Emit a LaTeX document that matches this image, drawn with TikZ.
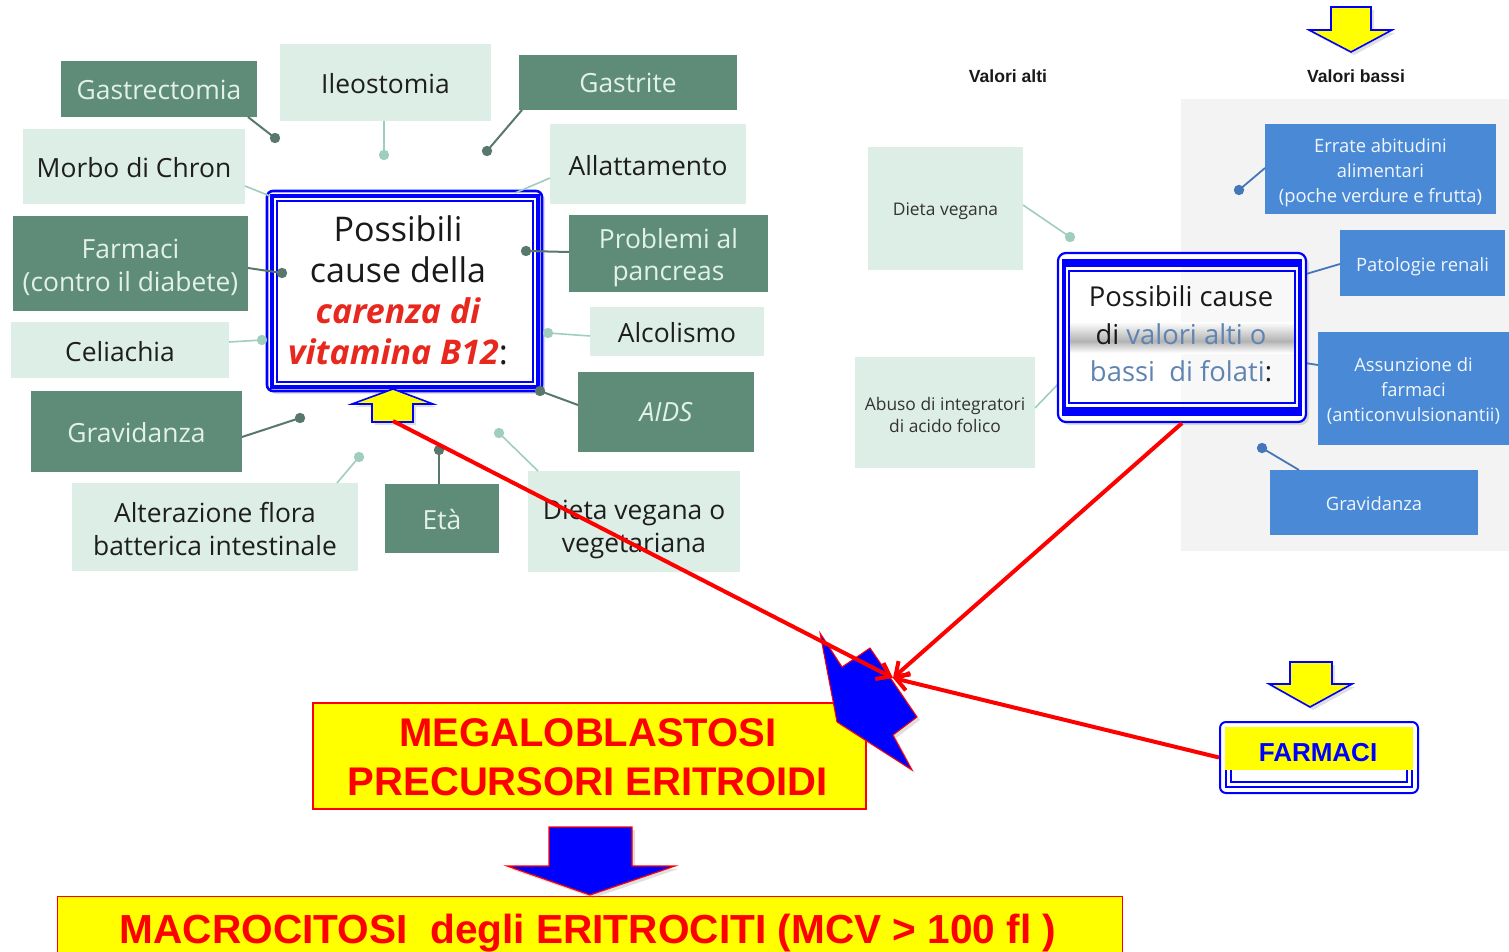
\documentclass[tikz,border=0pt]{standalone}
\usepackage{fontspec}
\setmainfont{Open Sans}
\newfontfamily\arialfont{Liberation Sans}
\usetikzlibrary{arrows.meta,calc,shadows}

\definecolor{mapdark}{RGB}{95,140,121}
\definecolor{maplight}{RGB}{221,238,230}
\definecolor{darktxt}{RGB}{226,241,233}
\definecolor{lighttxt}{RGB}{30,30,30}
\definecolor{linedark}{RGB}{88,120,108}
\definecolor{linelight}{RGB}{160,206,190}
\definecolor{folblue}{RGB}{74,137,214}
\definecolor{folline}{RGB}{70,118,186}
\definecolor{panelgray}{RGB}{243,243,243}
\definecolor{folatetxt}{RGB}{95,132,178}
\definecolor{b12red}{RGB}{232,40,30}
\definecolor{pureblue}{RGB}{0,0,255}
\definecolor{purered}{RGB}{255,0,0}
\definecolor{pureyellow}{RGB}{255,255,0}

% rectangular map node given by its corners (x1,y1,x2,y2),
% with its label moved down by #7
\newcommand\mapnode[8]{%
  \node[#2, minimum width={(#5-#3)*0.5pt}, minimum height={(#6-#4)*0.5pt}]
    (#1) at ({(#3+#5)/2},{(#4+#6)/2}) {};
  \node[#2, fill=none] (#1-label) at ({(#3+#5)/2},{(#4+#6)/2+#7}) {#8};}

\begin{document}
\begin{tikzpicture}[x=0.5pt,y=-0.5pt,
  mapbox/.style={rectangle, inner sep=0pt, outer sep=0pt, align=center,
    font=\fontsize{13.2}{16.3}\selectfont},
  darkbox/.style={mapbox, fill=mapdark, text=darktxt},
  lightbox/.style={mapbox, fill=maplight, text=lighttxt},
  palebox/.style={mapbox, fill=maplight, text=black!80,
    font=\fontsize{8.7}{11}\selectfont},
  bluebox/.style={mapbox, fill=folblue, text=white!92!folblue,
    font=\fontsize{9.2}{12.5}\selectfont},
  darkwire/.style={draw=linedark, line width=1pt},
  lightwire/.style={draw=linelight, line width=0.8pt},
  bluewire/.style={draw=folline, line width=0.9pt},
  softshadow/.style={drop shadow={opacity=0.25, shadow xshift=1.5pt, shadow yshift=-1.5pt}},
  yellowarrow/.style={fill=pureyellow, draw=pureblue, line width=0.8pt, line join=miter, softshadow},
  bluearrow/.style={fill=pureblue, draw=purered, line width=0.6pt, line join=miter, softshadow},
  redarrow/.style={draw=purered, line width=2pt, -{Straight Barb[length=6pt,width=9pt]}},
  redbox/.style={rectangle, fill=pureyellow, draw=purered, line width=0.7pt, inner sep=0pt},
  bigred/.style={text=purered, font=\arialfont\bfseries\fontsize{20}{24.5}\selectfont, align=center},
  heading/.style={font=\arialfont\bfseries\fontsize{8.8}{10}\selectfont, text=black!90}
]
\useasboundingbox (0,0) rectangle (1509,952);
\fill[white] (0,0) rectangle (1509,952);

% ---------------- vitamin B12 map ----------------
\mapnode{gastr}{darkbox}{61}{61}{257}{117}{1}{Gastrectomia}
\mapnode{ileo}{lightbox}{280}{44}{491}{121}{1}{Ileostomia}
\mapnode{gastrite}{darkbox}{519}{55}{737}{110}{0.5}{Gastrite}
\mapnode{morbo}{lightbox}{23}{129}{245}{204}{1}{Morbo di Chron}
\mapnode{allatt}{lightbox}{550}{124}{746}{204}{2}{Allattamento}
\mapnode{farmdiab}{darkbox}{13}{216}{248}{311}{4}{Farmaci\\(contro il diabete)}
\mapnode{pancr}{darkbox}{569}{215}{768}{292}{4}{Problemi al\\pancreas}
\mapnode{celiac}{lightbox}{11}{322}{229}{378}{2}{Celiachia}
\mapnode{alcol}{lightbox}{590}{307}{764}{356}{1}{Alcolismo}
\mapnode{aids}{darkbox}{578}{372}{754}{452}{0}{\itshape AIDS}
\mapnode{grav}{darkbox}{31}{391}{242}{472}{1}{Gravidanza}
\mapnode{alter}{lightbox}{72}{483}{358}{571}{2}{Alterazione flora\\batterica intestinale}
\mapnode{eta}{darkbox}{385}{484}{499}{553}{1}{Età}
\mapnode{dieta}{lightbox}{528}{471}{740}{572}{8}{Dieta vegana o\\vegetariana}

% central frame
\node[rectangle, draw=pureblue, line width=1.3pt, rounded corners=3pt, fill=white,
      minimum width=137.5pt, minimum height=100pt, softshadow] (b12) at (404.5,291) {};
\draw[pureblue, line width=1.6pt] (272,196) rectangle (538,387);
\draw[pureblue, line width=0.8pt] (277,201) rectangle (533,382);
\node[align=center, font=\fontsize{17}{20.5}\selectfont, text=black!90] (b12txt) at (398,290)
  {Possibili\\cause della\\{\color{b12red}\bfseries\itshape carenza di}\\{\color{b12red}\bfseries\itshape vitamina B12}:};

% connectors with their end dots
\coordinate (d1) at (275,138);  \coordinate (d2) at (384,155);
\coordinate (d3) at (487,151);  \coordinate (e4) at (270,196);
\coordinate (e5) at (515,193);  \coordinate (d6) at (282,273);
\coordinate (d7) at (526,251);  \coordinate (d8) at (262,340);
\coordinate (d9) at (548,333);  \coordinate (d10) at (540,391);
\coordinate (d11) at (300,418); \coordinate (d12) at (359,457);
\coordinate (d13) at (439,450); \coordinate (d14) at (499,433);

\draw[darkwire]  ($(gastr.south east)+(-9,0)$) -- (d1);
\draw[lightwire] ($(ileo.south)+(-1.5,0)$) -- (d2);
\draw[darkwire]  ($(gastrite.south west)+(3,0)$) -- (d3);
\draw[lightwire] ($(morbo.east)+(0,19.5)$) -- (e4);
\draw[lightwire] ($(allatt.west)+(0,14)$) -- (e5);
\draw[darkwire]  ($(farmdiab.east)+(0,4.5)$) -- (d6);
\draw[darkwire]  ($(pancr.west)+(0,-1.5)$) -- (d7);
\draw[lightwire] ($(celiac.east)+(0,-8)$) -- (d8);
\draw[lightwire] ($(alcol.west)+(0,4.5)$) -- (d9);
\draw[darkwire]  ($(aids.west)+(0,-7)$) -- (d10);
\draw[darkwire]  ($(grav.east)+(0,5.5)$) -- (d11);
\draw[lightwire] ($(alter.north east)+(-21,0)$) -- (d12);
\draw[darkwire]  ($(eta.north)+(-3,0)$) -- (d13);
\draw[lightwire] ($(dieta.north west)+(10,0)$) -- (d14);

\foreach \p in {d1,d3,d6,d7,d10,d11,d13} \fill[linedark] (\p) circle (2.6pt);
\foreach \p in {d2,d8,d9,d12,d14} \fill[linelight] (\p) circle (2.6pt);

% arrow pointing up at the B12 frame
\filldraw[yellowarrow] (393,389) -- (433,404) -- (413,404) -- (413,422)
  -- (372,422) -- (372,404) -- (352,404) -- cycle;
\coordinate (uptail) at (393,421);

% ---------------- folate map ----------------
\node[heading] (alti) at (1008,76) {Valori alti};
\node[heading] (bassi) at (1356,76) {Valori bassi};
\filldraw[yellowarrow] (1331,7) -- (1371,7) -- (1371,30) -- (1392,30)
  -- (1351,52) -- (1309,30) -- (1331,30) -- cycle;

\fill[panelgray] (1181,99) rectangle (1509,551);

\mapnode{dveg}{palebox}{868}{147}{1023}{270}{3}{Dieta vegana}
\mapnode{abuso}{palebox}{855}{357}{1035}{468}{2}{Abuso di integratori\\di acido folico}
\mapnode{errate}{bluebox}{1265}{124}{1496}{214}{4}{Errate abitudini\\alimentari\\(poche verdure e frutta)}
\mapnode{patol}{bluebox}{1340}{230}{1505}{296}{3.5}{Patologie renali}
\mapnode{assunz}{bluebox}{1318}{332}{1509}{445}{2}{Assunzione di\\farmaci\\(anticonvulsionantii)}
\mapnode{grav2}{bluebox}{1270}{470}{1478}{535}{1}{Gravidanza}

\coordinate (f1) at (1070,237);  \coordinate (f2) at (1060,382);
\coordinate (f3) at (1239,190);  \coordinate (f4) at (1306,274);
\coordinate (f5) at (1299,362);  \coordinate (f6) at (1262,448);
\draw[lightwire] ($(dveg.east)+(0,-3.5)$) -- (f1);
\draw[lightwire] ($(abuso.east)+(0,-4.5)$) -- (f2);
\draw[bluewire]  ($(errate.west)+(0,-1)$) -- (f3);
\draw[bluewire]  ($(patol.west)+(0,1)$) -- (f4);
\draw[bluewire]  ($(assunz.west)+(0,-23.5)$) -- (f5);
\draw[bluewire]  ($(grav2.north west)+(29,0)$) -- (f6);
\fill[linelight] (f1) circle (2.6pt);
\fill[folline] (f3) circle (2.6pt);
\fill[folline] (f6) circle (2.6pt);

% central frame
\node[rectangle, draw=pureblue, line width=1.1pt, rounded corners=4pt, fill=white,
      minimum width=124pt, minimum height=84.5pt, softshadow] (fol) at (1182,337.5) {};
\fill[pureblue] (1062,259) rectangle (1302,416);
\fill[white] (1066,267) rectangle (1298,407);
\fill[panelgray!60] (1181,267) rectangle (1298,407);
\shade[top color=white, bottom color=black!30] (1068,322) rectangle (1296,341);
\shade[top color=black!30, bottom color=white] (1068,341) rectangle (1296,353);
\draw[pureblue, line width=0.9pt] (1069,271) rectangle (1295,403);
\node[align=center, font=\fontsize{13.7}{18.75}\selectfont, text=black!90] (foltxt) at (1181,334)
  {Possibili cause\\di {\color{folatetxt}valori alti o}\\{\color{folatetxt}bassi\ \ di folati}:};

% ---------------- consequences ----------------
\node[redbox, minimum width=276.5pt, minimum height=53pt] (meg) at (589.5,756) {};
\node[bigred] (megtxt) at (588,757) {MEGALOBLASTOSI\\PRECURSORI ERITROIDI};

% lightning mark
\filldraw[fill=pureblue, draw=purered, line width=0.5pt, softshadow]
  (820,633) -- (842,667) -- (870,648) -- (917,717) -- (893,735)
  -- (912,770) -- (837,722) -- cycle;

\node[redbox, anchor=north west, minimum width=532.5pt, minimum height=40pt] (macro) at (57,896) {};
\node[bigred, anchor=base, font=\arialfont\bfseries\fontsize{20.3}{24}\selectfont] (macrotxt) at (588,943)
  {MACROCITOSI\ \ degli ERITROCITI (MCV > 100 fl )};

\filldraw[bluearrow] (549,827) -- (632,827) -- (632,866) -- (675,866)
  -- (590,895) -- (507,866) -- (549,866) -- cycle;

% drugs frame
\filldraw[yellowarrow] (1290,662) -- (1332,662) -- (1332,684) -- (1352,684)
  -- (1310,707) -- (1269,684) -- (1290,684) -- cycle;
\node[rectangle, draw=pureblue, line width=1pt, rounded corners=3pt, fill=white,
      minimum width=99pt, minimum height=35.5pt] (farm) at (1319,757.5) {};
\draw[pureblue, line width=1.3pt] (1226,728) rectangle (1412,787);
\draw[pureblue, line width=0.7pt] (1231,733) rectangle (1407,782);
\fill[pureyellow] (1225,727) rectangle (1413,770);
\node[font=\arialfont\bfseries\fontsize{13}{15}\selectfont, text=pureblue] (farmtxt) at (1318,753) {FARMACI};

% red links towards the lightning mark
\coordinate (meet) at (893,678);
\draw[redarrow] (uptail) -- (meet);
\draw[redarrow] (fol.south) -- (meet);
\draw[redarrow] (farm.west) -- (meet);
\end{tikzpicture}
\end{document}
